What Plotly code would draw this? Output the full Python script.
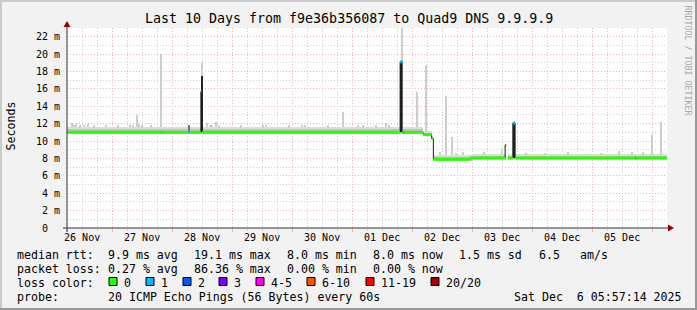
import plotly.graph_objects as go
import pandas as pd

START = "2025-11-26 05:57:14"
END = "2025-12-06 05:57:14"

# ---------------- data ----------------
# median RTT (ms) as steps: value holds from its time to the next time; None = no data
median_time = [
    "2025-11-26 05:57", "2025-11-27 19:36", "2025-11-27 20:00",
    "2025-11-28 06:24", "2025-11-28 06:48",
    "2025-11-28 11:30", "2025-11-28 12:00",
    "2025-12-01 19:12", "2025-12-01 20:00", "2025-12-01 20:24", "2025-12-01 20:48",
    "2025-12-02 04:24", "2025-12-02 07:48", "2025-12-02 08:30",
    "2025-12-02 23:12",
    "2025-12-03 13:12", "2025-12-03 13:36", "2025-12-03 14:18",
    "2025-12-03 16:17", "2025-12-03 17:12",
    "2025-12-05 17:12", "2025-12-05 17:36",
    "2025-12-06 05:57",
]
median_ms = [11.0, 11.0, 11.0, 11.0, 11.0, 15.7, 11.0, 19.1, 11.0, 11.0, 11.0,
             10.75, 10.3, 7.92, 8.05, 9.5, None, 8.05, 12.07, 8.05, 8.05, 8.05, 8.05]
loss_count = [0, 1, 0, 1, 0, 2, 0, 1, 0, 1, 0, 0, 0, 0, 0, 12, None, 0, 1, 0, 1, 0, 0]

# smoke (ping spread) base bands
band_start = ["2025-11-26 05:57", "2025-12-02 04:24", "2025-12-02 07:48",
              "2025-12-02 08:30", "2025-12-03 00:00", "2025-12-03 14:18"]
band_end = ["2025-12-02 04:24", "2025-12-02 07:48", "2025-12-02 08:30",
            "2025-12-03 00:00", "2025-12-03 13:36", "2025-12-06 05:57"]
band_outer_low = [10.8, 10.55, 10.1, 7.65, 7.8, 7.8]
band_outer_high = [11.65, 11.15, 10.6, 8.45, 8.5, 8.5]
band_inner_low = [10.9, 10.65, 10.2, 7.75, 7.88, 7.88]
band_inner_high = [11.35, 10.98, 10.48, 8.2, 8.3, 8.3]

# single smoke spikes (light grey)
spike_time = ["2025-11-26 07:53", "2025-11-26 09:36", "2025-11-26 12:48", "2025-11-26 14:24",
              "2025-11-27 08:24", "2025-11-27 09:53", "2025-11-27 10:48", "2025-11-27 19:36",
              "2025-11-28 12:00", "2025-11-28 14:00", "2025-11-28 16:00", "2025-11-28 17:36",
              "2025-11-29 12:24", "2025-11-30 04:00", "2025-11-30 20:24", "2025-12-01 04:24",
              "2025-12-01 13:36", "2025-12-01 19:53", "2025-12-02 01:53", "2025-12-02 05:36",
              "2025-12-02 13:29", "2025-12-02 15:53", "2025-12-03 11:53", "2025-12-04 05:12",
              "2025-12-04 23:12", "2025-12-05 10:55", "2025-12-05 23:53", "2025-12-06 03:29",
              "2025-11-26 08:48", "2025-11-26 11:12", "2025-11-26 16:48", "2025-11-26 21:36",
              "2025-11-27 02:24", "2025-11-27 07:12", "2025-11-27 12:00", "2025-11-27 15:36",
              "2025-11-28 15:12", "2025-11-28 18:48", "2025-11-29 03:36", "2025-11-29 13:36",
              "2025-11-29 22:48", "2025-11-30 05:12", "2025-11-30 14:24", "2025-12-01 02:24",
              "2025-12-01 09:36", "2025-12-01 14:48", "2025-12-02 11:12", "2025-12-02 17:36",
              "2025-12-02 20:24", "2025-12-03 04:48", "2025-12-03 21:36", "2025-12-04 14:24",
              "2025-12-05 03:36", "2025-12-05 16:00", "2025-12-05 20:24"]
spike_low = [11.6, 11.6, 11.6, 11.6, 11.6, 11.6, 11.6, 11.6, 11.6, 11.6, 11.6, 11.6,
             11.6, 11.6, 11.6, 11.6, 11.6, 11.6, 11.6, 11.1, 8.4, 8.4, 8.45, 8.45,
             8.45, 8.45, 8.45, 8.45,
             11.6, 11.6, 11.6, 11.6, 11.6, 11.6, 11.6, 11.6, 11.6, 11.6, 11.6, 11.6,
             11.6, 11.6, 11.6, 11.6, 11.6, 11.6, 8.4, 8.4, 8.4, 8.45, 8.45, 8.45,
             8.45, 8.45, 8.45]
spike_high = [12.1, 12.0, 11.9, 12.0, 11.9, 12.95, 12.0, 20.0, 19.0, 12.1, 11.9, 12.2,
              11.8, 11.9, 13.3, 11.8, 12.1, 23.0, 15.6, 18.8, 15.2, 10.5, 9.05, 8.6,
              8.5, 8.9, 10.65, 12.2,
              11.9, 11.8, 11.8, 11.9, 11.8, 11.9, 11.8, 11.9, 11.9, 11.8, 11.8, 11.9,
              11.8, 11.9, 11.8, 11.9, 11.8, 11.8, 8.7, 8.65, 8.7, 8.7, 8.65, 8.7,
              8.65, 8.7, 8.7]

# dense (dark) smoke columns
dark_start = ["2025-11-28 06:24", "2025-11-28 11:30", "2025-12-01 19:12", "2025-12-03 16:17"]
dark_end = ["2025-11-28 06:48", "2025-11-28 12:30", "2025-12-01 20:00", "2025-12-03 17:12"]
dark_low = [11.0, 11.0, 11.0, 8.05]
dark_high = [11.8, 17.5, 19.1, 12.07]
dark_color = ["#707070", "#222222", "#222222", "#222222"]

loss_labels = ["0", "1", "2", "3", "4-5", "6-10", "11-19", "20/20"]
loss_colors = ["#26ff00", "#00b8ff", "#0059ff", "#7e00ff", "#ff00ff", "#ff5500", "#ff0000", "#a10000"]

x_tick_vals = ["2025-11-26 12:00", "2025-11-27 12:00", "2025-11-28 12:00", "2025-11-29 12:00",
               "2025-11-30 12:00", "2025-12-01 12:00", "2025-12-02 12:00", "2025-12-03 12:00",
               "2025-12-04 12:00", "2025-12-05 12:00"]
x_tick_labels = ["26 Nov", "27 Nov", "28 Nov", "29 Nov", "30 Nov",
                 "01 Dec", "02 Dec", "03 Dec", "04 Dec", "05 Dec"]
y_tick_vals = [0, 2, 4, 6, 8, 10, 12, 14, 16, 18, 20, 22]
y_tick_labels = ["0\u00a0\u00a0", "2 m", "4 m", "6 m", "8 m", "10 m", "12 m", "14 m",
                 "16 m", "18 m", "20 m", "22 m"]

title_text = "Last 10 Days from f9e36b356087 to Quad9 DNS 9.9.9.9"
stat_rtt = ["median rtt:", "9.9 ms avg", "19.1 ms max", "8.0 ms min", "8.0 ms now", "1.5 ms sd", "6.5", "am/s"]
stat_loss = ["packet loss:", "0.27 % avg", "86.36 % max", "0.00 % min", "0.00 % now"]
probe_text = ["probe:", "20 ICMP Echo Pings (56 Bytes) every 60s"]
stamp_text = "Sat Dec\u00a0\u00a06 05:57:14 2025"

# ---------------- geometry helpers (pixels -> paper) ----------------
W, H = 697, 310
L, R, T, B = 67, 667, 28, 228


def px(x):
    return (x - L) / (R - L)


def py(y):
    return (B - y) / (B - T)


MONO = "DejaVu Sans Mono"


def loss_class(n):
    if n is None:
        return None
    if n <= 3:
        return n
    if n <= 5:
        return 4
    if n <= 10:
        return 5
    if n <= 19:
        return 6
    return 7


fig = go.Figure()


def add_bars(starts, ends, lows, highs, colors):
    s = pd.to_datetime(pd.Series(starts))
    e = pd.to_datetime(pd.Series(ends))
    centers = s + (e - s) / 2
    widths = (e - s).dt.total_seconds() * 1000
    fig.add_trace(go.Bar(x=centers, y=[h - l for h, l in zip(highs, lows)], base=lows,
                         width=list(widths), marker=dict(color=colors, line=dict(width=0)),
                         hoverinfo="skip", showlegend=False))


# smoke
add_bars(band_start, band_end, band_outer_low, band_outer_high, ["#dcdcdc"] * len(band_start))
add_bars(band_start, band_end, band_inner_low, band_inner_high, ["#c2c2c2"] * len(band_start))
sp = pd.to_datetime(pd.Series(spike_time))
add_bars(list(sp - pd.Timedelta(minutes=12)), list(sp + pd.Timedelta(minutes=12)),
         spike_low, spike_high, ["#cdcdcd"] * len(spike_time))
add_bars(dark_start, dark_end, dark_low, dark_high, dark_color)

# median line
fig.add_trace(go.Scatter(x=median_time, y=median_ms, mode="lines", line_shape="hv",
                         line=dict(color="#1c1c1c", width=1), connectgaps=False,
                         hoverinfo="skip", showlegend=False))

# loss-coloured median band (on overlaid axis so it is drawn above)
for c, col in enumerate(loss_colors):
    xs, ys = [], []
    for i in range(len(median_time) - 1):
        if median_ms[i] is None or loss_class(loss_count[i]) != c:
            continue
        xs += [median_time[i], median_time[i + 1], None]
        ys += [median_ms[i], median_ms[i], None]
    if not xs:
        xs, ys = [None], [None]
    fig.add_trace(go.Scatter(x=xs, y=ys, xaxis="x2", mode="lines",
                             line=dict(color=col, width=3), connectgaps=False,
                             hoverinfo="skip", showlegend=False))

GRID_MAJ = "#f0b2b2"
GRID_MIN = "#cfcfcf"
DASH = "1px,2px"

fig.update_layout(
    width=W, height=H,
    margin=dict(l=L, r=W - R, t=T, b=H - B, pad=0),
    paper_bgcolor="#f2f2f2", plot_bgcolor="#ffffff",
    barmode="overlay", bargap=0,
    font=dict(family=MONO, color="#000000", size=10),
    showlegend=False,
    xaxis=dict(type="date", range=[START, END], showticklabels=False,
               tick0="2025-11-27 00:00", dtick=86400000,
               showgrid=True, gridcolor=GRID_MAJ, griddash=DASH, gridwidth=1,
               ticks="outside", ticklen=3, tickcolor=GRID_MAJ,
               minor=dict(tick0="2025-11-26 00:00", dtick=6 * 3600000, showgrid=True,
                          gridcolor=GRID_MIN, griddash=DASH, gridwidth=1,
                          ticks="outside", ticklen=2, tickcolor=GRID_MIN),
               zeroline=False, showline=False, fixedrange=True),
    xaxis2=dict(type="date", overlaying="x", matches="x", anchor="y", side="bottom",
                tickmode="array", tickvals=x_tick_vals, ticktext=x_tick_labels,
                showgrid=False, ticks="", zeroline=False, showline=False,
                tickfont=dict(family=MONO, size=10, color="#000000"),
                ticklabelstandoff=2),
    yaxis=dict(range=[0, 23], tickmode="array", tickvals=y_tick_vals, ticktext=y_tick_labels,
               showgrid=True, gridcolor=GRID_MAJ, griddash=DASH, gridwidth=1,
               minor=dict(dtick=1, showgrid=True, gridcolor=GRID_MIN, griddash=DASH, gridwidth=1),
               ticks="", zeroline=False, showline=False,
               tickfont=dict(family=MONO, size=10, color="#000000"),
               ticklabelstandoff=6),
)

shapes = []
# frame
shapes.append(dict(type="rect", xref="paper", yref="paper", x0=px(0), x1=px(W), y0=py(0), y1=py(2),
                   fillcolor="#cbcbcb", line=dict(width=0), layer="below"))
shapes.append(dict(type="rect", xref="paper", yref="paper", x0=px(0), x1=px(2), y0=py(0), y1=py(H),
                   fillcolor="#cbcbcb", line=dict(width=0), layer="below"))
shapes.append(dict(type="rect", xref="paper", yref="paper", x0=px(0), x1=px(W), y0=py(H - 2), y1=py(H),
                   fillcolor="#999999", line=dict(width=0), layer="below"))
shapes.append(dict(type="rect", xref="paper", yref="paper", x0=px(W - 2), x1=px(W), y0=py(0), y1=py(H),
                   fillcolor="#999999", line=dict(width=0), layer="below"))
# axes
AX = "#333333"
ARROW = "#990000"
shapes.append(dict(type="line", xref="paper", yref="paper", x0=px(63), x1=px(669), y0=py(228), y1=py(228),
                   line=dict(color=AX, width=1)))
shapes.append(dict(type="line", xref="paper", yref="paper", x0=px(67), x1=px(67), y0=py(232), y1=py(25),
                   line=dict(color=AX, width=1)))
shapes.append(dict(type="path", xref="paper", yref="paper",
                   path=f"M {px(668)} {py(224.5)} L {px(674)} {py(228)} L {px(668)} {py(231.5)} Z",
                   fillcolor=ARROW, line=dict(width=0)))
shapes.append(dict(type="path", xref="paper", yref="paper",
                   path=f"M {px(63.5)} {py(27)} L {px(67)} {py(21)} L {px(70.5)} {py(27)} Z",
                   fillcolor=ARROW, line=dict(width=0)))

# legend colour boxes
box_x = [109, 146, 183, 219, 256, 307, 366, 431]
lab_x = [123, 160, 197, 233, 270, 321, 380, 445]
for bx, col in zip(box_x, loss_colors):
    shapes.append(dict(type="rect", xref="paper", yref="paper", x0=px(bx), x1=px(bx + 8),
                       y0=py(285.5), y1=py(277.5), fillcolor=col, line=dict(color="#000000", width=1)))
fig.update_layout(shapes=shapes)

ann = []


def text(x, y, s, size=11.6, anchor="left", color="#000000", angle=0):
    ann.append(dict(xref="paper", yref="paper", x=px(x), y=py(y), text=s, showarrow=False,
                    xanchor=anchor, yanchor="middle", textangle=angle,
                    font=dict(family=MONO, size=size, color=color), borderpad=0))


text(348.5, 18.5, title_text, size=13.3, anchor="center")
text(687.5, 60, "RRDTOOL / TOBI OETIKER", size=8.3, anchor="center", color="#a8a8a8", angle=90)
text(10.5, 126, "Seconds", anchor="center", angle=-90)

rtt_x = [16, 107, 193, 286, 372, 458, 538, 579]
for x, s in zip(rtt_x, stat_rtt):
    text(x, 254.5, s)
loss_x = [16, 107, 193, 286, 372]
for x, s in zip(loss_x, stat_loss):
    text(x, 268.5, s)
text(16, 282.5, "loss color:")
for x, s in zip(lab_x, loss_labels):
    text(x, 282.5, s)
text(16, 296.5, probe_text[0])
text(107, 296.5, probe_text[1])
text(513, 296.5, stamp_text)
fig.update_layout(annotations=ann)

fig.write_html("out.html")
